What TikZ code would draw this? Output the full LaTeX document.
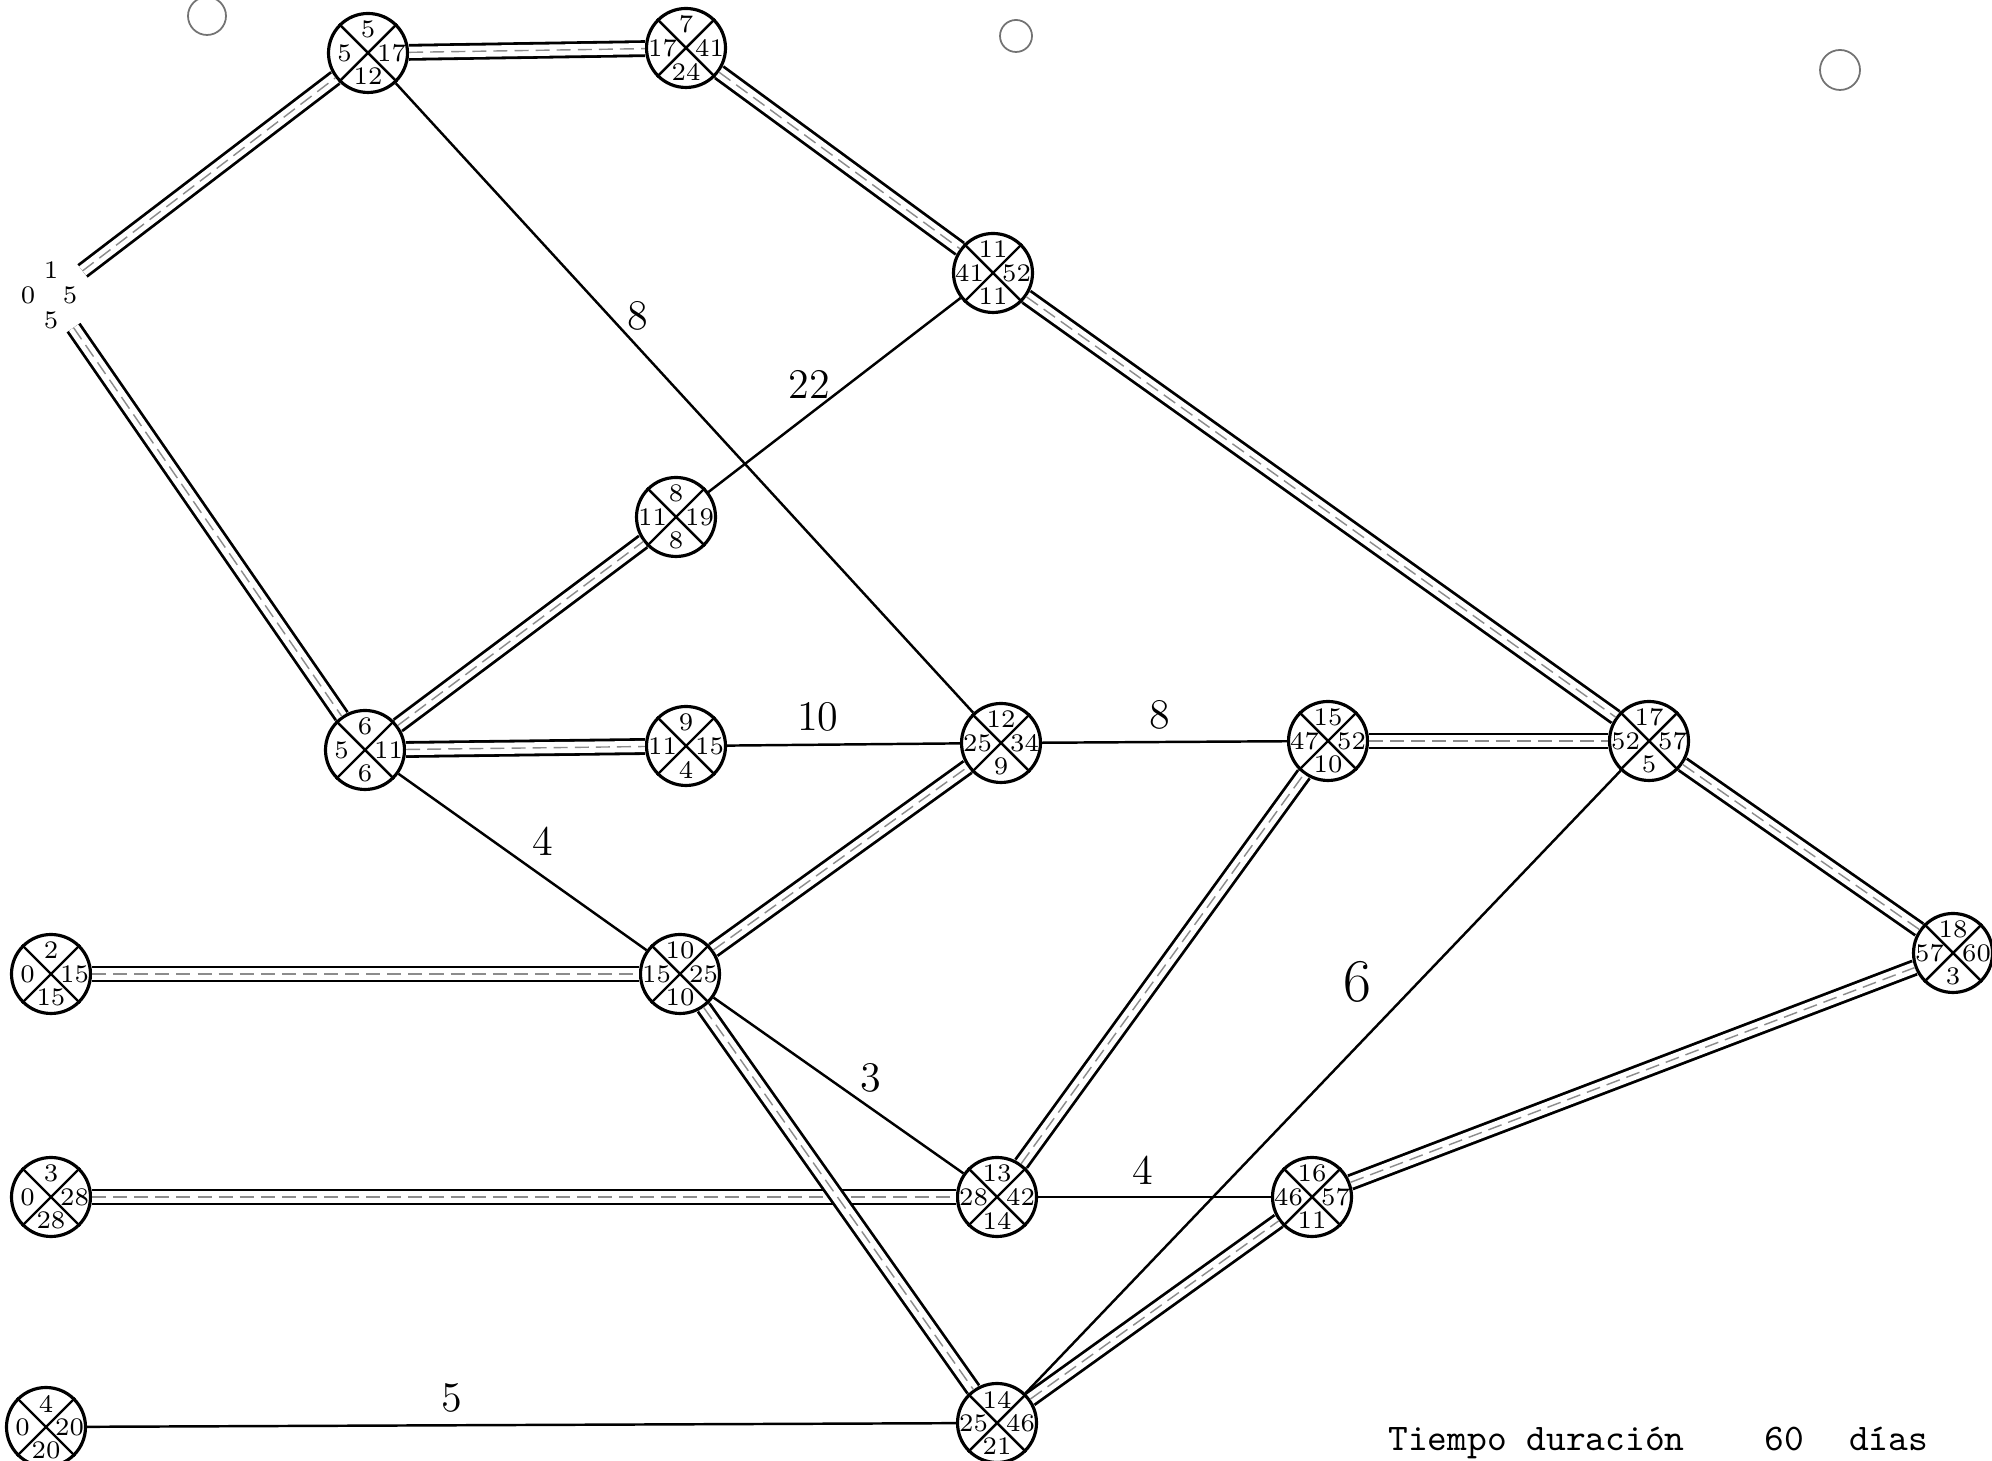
\documentclass[tikz,border=0pt]{standalone}
\usepackage{tikz}
\usetikzlibrary{positioning}

\newcommand{\suceso}[6]{%
\node[ev](#1)at(#2){};
\draw[cruz](#1.north west)--(#1.south east);
\draw[cruz](#1.north east)--(#1.south west);
\node[num](#1-a)at([yshift=2.35mm]#1.center){#3};
\node[num](#1-i)at([xshift=-2.35mm]#1.center){#4};
\node[num](#1-d)at([xshift=2.35mm]#1.center){#5};
\node[num](#1-b)at([yshift=-2.35mm]#1.center){#6};
}

\begin{document}
\begin{tikzpicture}[ev/.style={circle,draw,line width=0.9pt,minimum size=7.9mm,inner sep=0pt},
cruz/.style={line width=0.7pt},
num/.style={inner sep=0pt,font=\fontsize{7.2}{8}\selectfont},
critica/.style={draw=white,line width=3.2pt,preaction={draw=black,line width=4.8pt},
postaction={draw=black!45,line width=0.4pt,dash pattern=on 4pt off 2pt}},
simple/.style={draw,line width=0.7pt},
dur/.style={font=\large}]
\useasboundingbox(0,0)rectangle(19.92,14.61);
\draw[black!55,line width=0.5pt](2.07,14.45)circle(0.19);
\draw[black!55,line width=0.5pt](10.16,14.25)circle(0.16);
\draw[black!55,line width=0.5pt](18.40,13.91)circle(0.2);
\node[circle,minimum size=7.8mm,inner sep=0pt](n1)at(0.51,11.66){};
\node[num](n1-a)at([yshift=2.5mm]n1.center){1};
\node[num](n1-i)at([xshift=-2.3mm]n1.center){0};
\node[num](n1-d)at([xshift=1.9mm]n1.center){5};
\node[num](n1-b)at([yshift=-2.5mm]n1.center){5};
\suceso{n5}{3.68,14.08}{5}{5}{17}{12}
\suceso{n7}{6.86,14.13}{7}{17}{41}{24}
\suceso{n11}{9.93,11.88}{11}{41}{52}{11}
\suceso{n8}{6.76,9.44}{8}{11}{19}{8}
\suceso{n6}{3.65,7.11}{6}{5}{11}{6}
\suceso{n9}{6.86,7.15}{9}{11}{15}{4}
\suceso{n12}{10.01,7.18}{12}{25}{34}{9}
\suceso{n15}{13.28,7.20}{15}{47}{52}{10}
\suceso{n17}{16.49,7.20}{17}{52}{57}{5}
\suceso{n18}{19.53,5.08}{18}{57}{60}{3}
\suceso{n2}{0.51,4.87}{2}{0}{15}{15}
\suceso{n10}{6.80,4.87}{10}{15}{25}{10}
\suceso{n3}{0.51,2.64}{3}{0}{28}{28}
\suceso{n13}{9.97,2.64}{13}{28}{42}{14}
\suceso{n16}{13.12,2.64}{16}{46}{57}{11}
\suceso{n4}{0.46,0.34}{4}{0}{20}{20}
\suceso{n14}{9.97,0.38}{14}{25}{46}{21}
\draw[critica](n1)--(n5);
\draw[critica](n5)--(n7);
\draw[critica](n7)--(n11);
\draw[critica](n11)--(n17);
\draw[critica](n1)--(n6);
\draw[critica](n6)--(n8);
\draw[critica](n6)--(n9);
\draw[critica](n10)--(n12);
\draw[critica](n2)--(n10);
\draw[critica](n3)--(n13);
\draw[critica](n10)--(n14);
\draw[critica](n13)--(n15);
\draw[critica](n15)--(n17);
\draw[critica](n17)--(n18);
\draw[critica](n14)--(n16);
\draw[critica](n16)--(n18);
\draw[simple](n5)--node[dur,pos=0.37,right=0.5mm](e1){8}(n12);
\draw[simple](n11)--node[dur,pos=0.6,above=0.3mm](e2){22}(n8);
\draw[simple](n9)--node[dur,pos=0.39,above](e3){10}(n12);
\draw[simple](n12)--node[dur,pos=0.48,above](e4){8}(n15);
\draw[simple](n6)--node[dur,pos=0.58,above=0.8mm](e5){4}(n10);
\draw[simple](n10)--node[dur,pos=0.63,above=0.3mm](e6){3}(n13);
\draw[simple](n13)--node[dur,pos=0.45,above](e7){4}(n16);
\draw[simple](n17)--node[dur,font=\LARGE,pos=0.34,left=3.4mm](e8){6}(n14);
\draw[simple](n4)--node[dur,pos=0.42,above](e9){5}(n14);
\node[anchor=west,font=\fontsize{10.7}{12}\selectfont\ttfamily](tiempo)at(13.76,0.18){Tiempo duración\hspace{0.8cm}60\hspace{0.45cm}días};
\end{tikzpicture}
\end{document}
